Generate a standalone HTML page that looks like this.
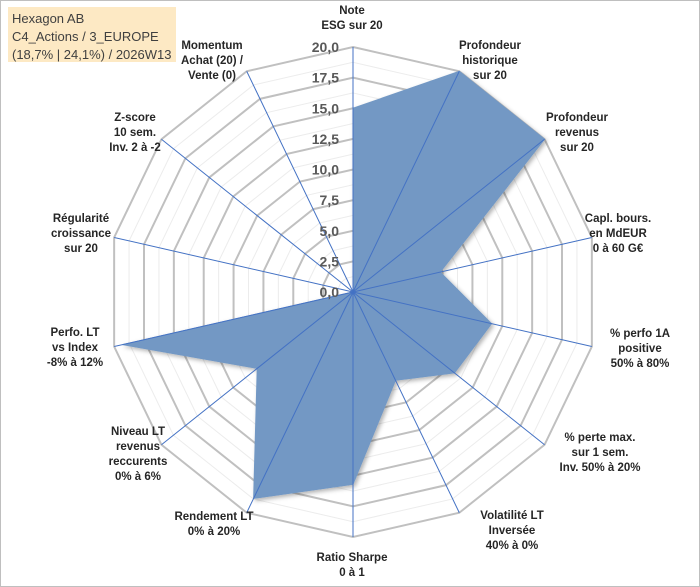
<!DOCTYPE html>
<html><head><meta charset="utf-8"><style>
body{margin:0;background:#fff}
svg{display:block}
text{font-family:"Liberation Sans",Arial,sans-serif}
</style></head><body>
<svg id="c" width="700" height="587">
<defs><filter id="sh" x="-10%" y="-10%" width="130%" height="130%"><feDropShadow dx="2" dy="2" stdDeviation="2" flood-color="#000" flood-opacity="0.3"/></filter></defs>
<rect x="0.5" y="0.5" width="699" height="586" fill="#fff" stroke="#bfbfbf"/>
<rect x="8" y="7" width="168" height="55" fill="#fde9c4"/>
<text x="12" y="23" font-size="13" fill="#404040">Hexagon AB</text>
<text x="12" y="41" font-size="13" fill="#404040">C4_Actions / 3_EUROPE</text>
<text x="12" y="59" font-size="13" fill="#404040">(18,7% | 24,1%) / 2026W13</text>
<g id="g"></g>
</svg>
<script>
const categories=[["Note","ESG sur 20"],["Profondeur","historique","sur 20"],["Profondeur","revenus","sur 20"],["Capl. bours.","en MdEUR","0 à 60 G€"],["% perfo 1A","positive","50% à 80%"],["% perte max.","sur 1 sem.","Inv. 50% à 20%"],["Volatilité LT","Inversée","40% à 0%"],["Ratio Sharpe","0 à 1"],["Rendement LT","0% à 20%"],["Niveau LT","revenus","reccurents","0% à 6%"],["Perfo. LT","vs Index","-8% à 12%"],["Régularité","croissance","sur 20"],["Z-score","10 sem.","Inv. 2 à -2"],["Momentum","Achat (20) /","Vente (0)"]];
const values=[15,20,20,7.3,11.6,10.6,8.0,15.7,18.7,10,19.3,0,0,0];
const tickLabels=["0,0","2,5","5,0","7,5","10,0","12,5","15,0","17,5","20,0"];
const maxV=20;
const labelX=[352,490,577,618,640,600,512,352,214,138,75,81,135,212];
const labelY=[14,49,121,222,337,441,519,561,520,435,336,222,121,49];
const cx=353,cy=292,R=245,N=categories.length;
const g=document.getElementById('g');
const NS="http://www.w3.org/2000/svg";
function mk(t,a){const e=document.createElementNS(NS,t);for(const k in a)e.setAttribute(k,a[k]);g.appendChild(e);return e;}
function pt(i,v){const a=i*2*Math.PI/N;const r=v/maxV*R;return [cx+r*Math.sin(a),cy-r*Math.cos(a)];}
for(let k=1;k<=16;k++){if(k%2===0)continue;const v=k*maxV/16;let p=[];for(let i=0;i<N;i++)p.push(pt(i,v).join(','));
const e=mk('polygon',{points:p.join(' '),fill:'none',stroke:'#ececec','stroke-width':1});

}
for(let k=1;k<tickLabels.length;k++){const v=k*maxV/(tickLabels.length-1);let p=[];for(let i=0;i<N;i++)p.push(pt(i,v).join(','));
const e=mk('polygon',{points:p.join(' '),fill:'none',stroke:'#c0c0c0','stroke-width':2});

}
let sp=[];for(let i=0;i<N;i++)sp.push(pt(i,values[i]).join(','));
const s=mk('polygon',{points:sp.join(' '),fill:'#7398c4',stroke:'#7398c4','stroke-width':1,filter:'url(#sh)'});


for(let i=0;i<N;i++){const [x,y]=pt(i,maxV);const e=mk('line',{x1:cx,y1:cy,x2:x,y2:y,stroke:'#4472c4','stroke-width':1});

}
for(let k=0;k<tickLabels.length;k++){const v=k*maxV/(tickLabels.length-1);const [x,y]=pt(0,v);
const t=mk('text',{x:x-14,y:y+5,'text-anchor':'end','font-size':14,'font-weight':'bold',fill:'#595959'});t.textContent=tickLabels[k];

}
for(let i=0;i<N;i++){const lines=categories[i];const lh=15;const x=labelX[i],y0=labelY[i];
const t=mk('text',{x:x,y:y0,'text-anchor':'middle','font-size':11.5,'font-weight':'bold',fill:'#262626'});


lines.forEach((l,j)=>{const ts=document.createElementNS(NS,'tspan');ts.setAttribute('x',x);ts.setAttribute('y',y0+j*lh);ts.textContent=l;t.appendChild(ts);});}
</script>
</body></html>
